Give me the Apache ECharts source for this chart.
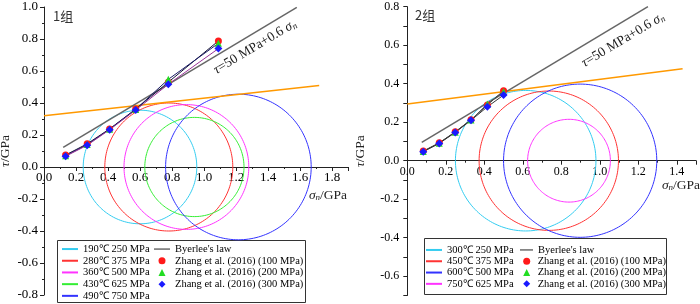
<!DOCTYPE html>
<html>
<head>
<meta charset="utf-8">
<script src="https://cdn.jsdelivr.net/npm/echarts@6/dist/echarts.min.js"></script>
<style>
    html, body { margin: 0; padding: 0; background: #fff; }
    #main { width: 700px; height: 304px; }
</style>
</head>
<body>
<div id="main"></div>
<script>
// ---- 1组 ----
var circleNames1 = ['190℃ 250 MPa', '280℃ 375 MPa', '360℃ 500 MPa', '430℃ 625 MPa', '490℃ 750 MPa'];
var circleCenter1 = [0.60, 0.78, 0.89, 0.94, 1.215];
var circleRadius1 = [0.355, 0.40, 0.39, 0.31, 0.455];
var sigma1 = [0.135, 0.27, 0.41, 0.573, 0.777, 1.09];
var tau1_100 = [0.075, 0.145, 0.238, 0.362, 0.53, 0.788];
var tau1_200 = [0.07, 0.14, 0.236, 0.36, 0.548, 0.773];
var tau1_300 = [0.067, 0.136, 0.233, 0.356, 0.517, 0.74];
var byerleeSigma1 = [0.12, 1.58];
var byerleeTau1 = [0.122, 0.998];
var envSigma1 = [0, 1.72];
var envTau1 = [0.32, 0.51];

// ---- 2组 ----
var circleNames2 = ['300℃ 250 MPa', '450℃ 375 MPa', '600℃ 500 MPa', '750℃ 625 MPa'];
var circleCenter2 = [0.615, 0.735, 0.898, 0.84];
var circleRadius2 = [0.365, 0.362, 0.398, 0.215];
var sigma2 = [0.083, 0.166, 0.249, 0.331, 0.416, 0.50];
var tau2_100 = [0.05, 0.093, 0.15, 0.213, 0.29, 0.364];
var tau2_200 = [0.048, 0.091, 0.148, 0.212, 0.295, 0.358];
var tau2_300 = [0.047, 0.09, 0.147, 0.21, 0.28, 0.341];
var byerleeSigma2 = [0.075, 1.25];
var byerleeTau2 = [0.095, 0.80];
var envSigma2 = [0, 1.43];
var envTau2 = [0.295, 0.478];

var zhangNames = ['Zhang et al. (2016) (100 MPa)', 'Zhang et al. (2016) (200 MPa)', 'Zhang et al. (2016) (300 MPa)'];

var colors1 = ['#33ccf0', '#ff3333', '#ff33ff', '#33ee33', '#3333ff'];
var colors2 = ['#33ccf0', '#ff3333', '#3333ff', '#ff33ff'];
var serif = '"Liberation Serif", "Times New Roman", serif';

var chart = echarts.init(document.getElementById('main'));

function zip(a, b) {
    return a.map(function (v, i) { return [v, b[i]]; });
}

function circleSeries(name, color, c, r, idx) {
    return {
        type: 'custom', name: name, xAxisIndex: idx, yAxisIndex: idx,
        silent: true,
        itemStyle: { color: color },
        data: [[c, r]],
        renderItem: function (params, api) {
            var cx = api.value(0), rr = api.value(1);
            var pts = [];
            for (var k = 0; k <= 180; k++) {
                var a = k / 180 * 2 * Math.PI;
                pts.push(api.coord([cx + rr * Math.cos(a), rr * Math.sin(a)]));
            }
            return { type: 'polyline', shape: { points: pts },
                style: { stroke: api.visual('color'), fill: null, lineWidth: 1 } };
        }
    };
}

function lineSeries(name, xs, ys, color, width, idx) {
    return {
        type: 'line', name: name, xAxisIndex: idx, yAxisIndex: idx,
        data: zip(xs, ys), symbol: 'none', silent: true,
        itemStyle: { color: color },
        lineStyle: { color: color, width: width }
    };
}

function zhangSeries(name, xs, ys, sym, size, color, lineColor, idx) {
    return {
        type: 'line', name: name, xAxisIndex: idx, yAxisIndex: idx,
        data: zip(xs, ys), symbol: sym, symbolSize: size, showSymbol: true,
        itemStyle: { color: color },
        lineStyle: { color: lineColor, width: 1 },
        z: 5
    };
}

function fmt(v) {
    var s = v.toFixed(1);
    return s === '-0.0' ? '0.0' : s;
}

function axisCommon(fontSize, margin, idx) {
    return {
        gridIndex: idx,
        axisLine: { onZero: false, lineStyle: { color: '#222', width: 1 } },
        axisTick: { length: 4, lineStyle: { color: '#222' } },
        minorTick: { show: true, splitNumber: 2, length: 2, lineStyle: { color: '#222' } },
        splitLine: { show: false },
        axisLabel: { color: '#000', fontFamily: serif, fontSize: fontSize, margin: margin, formatter: fmt }
    };
}

var series = [];
circleNames1.forEach(function (n, i) { series.push(circleSeries(n, colors1[i], circleCenter1[i], circleRadius1[i], 0)); });
series.push(lineSeries('env1', envSigma1, envTau1, '#ff9900', 1.5, 0));
series.push(lineSeries("Byerlee's law", byerleeSigma1, byerleeTau1, '#666666', 1.5, 0));
series.push(zhangSeries(zhangNames[0], sigma1, tau1_100, 'circle', 7, '#ff1a1a', '#111133', 0));
series.push(zhangSeries(zhangNames[1], sigma1, tau1_200, 'triangle', 7, '#22dd22', '#1a1a66', 0));
series.push(zhangSeries(zhangNames[2], sigma1, tau1_300, 'diamond', 8, '#1a1aff', '#993399', 0));

circleNames2.forEach(function (n, i) { series.push(circleSeries(n, colors2[i], circleCenter2[i], circleRadius2[i], 1)); });
series.push(lineSeries('env2', envSigma2, envTau2, '#ff9900', 1.5, 1));
series.push(lineSeries("Byerlee's law", byerleeSigma2, byerleeTau2, '#666666', 1.5, 1));
series.push(zhangSeries(zhangNames[0], sigma2, tau2_100, 'circle', 7, '#ff1a1a', '#222222', 1));
series.push(zhangSeries(zhangNames[1], sigma2, tau2_200, 'triangle', 7, '#22dd22', '#555555', 1));
series.push(zhangSeries(zhangNames[2], sigma2, tau2_300, 'diamond', 8, '#1a1aff', '#333333', 1));

var legendText = { color: '#000', fontFamily: serif, fontSize: 10.5, lineHeight: 11.7 };

function legend(left, top, data, w, h, extra) {
    var lg = {
        left: left, top: top, orient: 'vertical', padding: 0, itemGap: 0,
        itemWidth: w, itemHeight: h, selectedMode: false,
        textStyle: legendText, data: data
    };
    for (var k in extra) lg[k] = extra[k];
    return lg;
}

var zhangLegend = [
    { name: zhangNames[0], icon: 'circle' },
    { name: zhangNames[1], icon: 'triangle' },
    { name: zhangNames[2], icon: 'diamond' }
];
var byerleeLegend = [{ name: "Byerlee's law", icon: 'rect', itemStyle: { color: '#222' } }];

var rich = {
    i: { fontFamily: serif, fontStyle: 'italic', fontSize: 13.5 },
    s: { fontFamily: serif, fontStyle: 'italic', fontSize: 9, verticalAlign: 'bottom', padding: [6, 0, 0, 0] },
    t: { fontFamily: serif, fontSize: 13.5 }
};

// grid sizes: 1组 160 px per GPa, 2组 192.5 px per GPa
var y1 = axisCommon(13, 6, 0);
y1.min = -0.8; y1.max = 1.0; y1.interval = 0.2;
y1.name = '{i|τ}{t|/GPa}'; y1.nameLocation = 'middle'; y1.nameGap = 32;
y1.nameTextStyle = { rich: rich };
var x1 = axisCommon(13, 4, 0);
x1.min = 0; x1.max = 1.9; x1.interval = 0.2;
x1.position = 'bottom'; x1.offset = -0.8 * 160;   // move axis up to tau = 0
x1.axisLabel.showMaxLabel = false;

var y2 = axisCommon(12, 8, 1);
y2.min = -0.7; y2.max = 0.8; y2.interval = 0.1;
y2.minorTick = { show: false };
y2.axisLabel.formatter = function (v) { return Math.round(v * 10) % 2 === 0 ? fmt(v) : ''; };
y2.name = '{i|τ}{t|/GPa}'; y2.nameLocation = 'middle'; y2.nameGap = 40;
y2.nameTextStyle = { rich: rich };
var x2 = axisCommon(12, 5, 1);
x2.min = 0; x2.max = 1.5; x2.interval = 0.2;
x2.position = 'bottom'; x2.offset = -0.7 * 192.5;
x2.axisLabel.showMaxLabel = false;

function txt(x, y, text, size, rot) {
    return {
        type: 'text', x: x, y: y, rotation: rot || 0, silent: true,
        style: {
            text: text, fill: '#222', font: size + 'px ' + serif,
            textAlign: 'center', textVerticalAlign: 'middle', rich: rich
        }
    };
}

var slope = Math.atan(0.6);

var option = {
    animation: false,
    grid: [
        { left: 44, top: 7, width: 304, height: 288, outerBoundsMode: 'none', containLabel: false },
        { left: 407.3, top: 6.7, width: 288.75, height: 288.75, outerBoundsMode: 'none', containLabel: false }
    ],
    xAxis: [x1, x2],
    yAxis: [y1, y2],
    legend: [
        legend(62, 243.2, circleNames1.map(function (n) { return { name: n, icon: 'rect' }; }), 16, 2, {}),
        legend(154, 243.2, byerleeLegend, 16, 1, {}),
        legend(158.5, 254.9, zhangLegend, 7, 7, { textStyle: Object.assign({}, legendText, { padding: [0, 0, 0, 4.5] }) }),
        legend(426, 244.3, circleNames2.map(function (n) { return { name: n, icon: 'rect' }; }), 16, 2, { textStyle: Object.assign({}, legendText, { lineHeight: 11.3 }) }),
        legend(520, 244.3, byerleeLegend, 13, 1, { textStyle: Object.assign({}, legendText, { lineHeight: 11.3 }) }),
        legend(523.2, 255.6, zhangLegend, 7, 7, { textStyle: Object.assign({}, legendText, { lineHeight: 11.3, padding: [0, 0, 0, 2.5] }) })
    ],
    graphic: [
        { type: 'rect', shape: { x: 57.5, y: 240.5, width: 248, height: 62 }, style: { fill: null, stroke: '#333', lineWidth: 1 }, silent: true },
        { type: 'rect', shape: { x: 424.5, y: 238.5, width: 242, height: 56 }, style: { fill: null, stroke: '#333', lineWidth: 1 }, silent: true },
        { type: 'text', x: 53, y: 16.5, silent: true, style: { text: '1组', fill: '#333', font: '13px "Noto Sans CJK SC", sans-serif', textVerticalAlign: 'middle' } },
        { type: 'text', x: 415, y: 15, silent: true, style: { text: '2组', fill: '#333', font: '13px "Noto Sans CJK SC", sans-serif', textVerticalAlign: 'middle' } },
        txt(328, 195, '{i|σ}{s|n}{t|/GPa}', 13.5),
        txt(681, 185, '{i|σ}{s|n}{t|/GPa}', 13.5),
        txt(255, 47, '{i|τ}{t|=50 MPa+0.6 }{i|σ}{s|n}', 13.5, slope),
        txt(623, 40, '{i|τ}{t|=50 MPa+0.6 }{i|σ}{s|n}', 13.5, slope)
    ],
    series: series
};

chart.setOption(option);

window.addEventListener('resize', function () {
    chart.resize();
});
</script>
</body>
</html>
